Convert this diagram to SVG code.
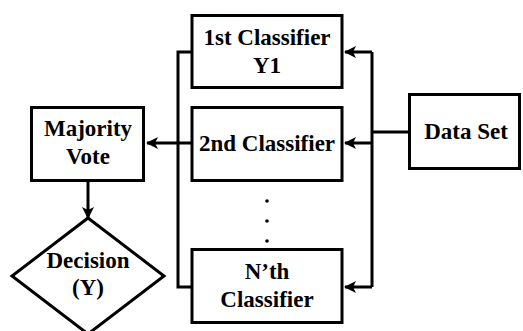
<svg xmlns="http://www.w3.org/2000/svg" width="523" height="331" viewBox="0 0 523 331">
<style>
.box{fill:#fff;stroke:#000;stroke-width:3}
.ln{fill:none;stroke:#000;stroke-width:3}
.t{font-family:'Liberation Serif','Times New Roman',serif;font-weight:bold;font-size:23px;fill:#000;text-anchor:middle}
</style>
<defs>
<marker id="ah" viewBox="0 0 12 12" refX="11" refY="6" markerWidth="12" markerHeight="12" markerUnits="userSpaceOnUse" orient="auto">
<path d="M0,0 L12,6 L0,12 L3,6 z" fill="#000"/>
</marker>
</defs>
<rect width="523" height="331" fill="#fff"/>
<g id="connectors">
<path class="ln" d="M372 52 V287"/>
<path class="ln" d="M408 132 H372"/>
<path class="ln" d="M372 52 H345" marker-end="url(#ah)"/>
<path class="ln" d="M372 143 H345" marker-end="url(#ah)"/>
<path class="ln" d="M372 287 H345" marker-end="url(#ah)"/>
<path class="ln" d="M191 52 H178 V287 H191"/>
<path class="ln" d="M191 143 H147" marker-end="url(#ah)"/>
<path class="ln" d="M88 182 V218" marker-end="url(#ah)"/>
</g>
<g id="classifier1">
<rect class="box" x="192" y="15.5" width="150" height="72"/>
<text class="t" x="267" y="45">1st Classifier</text>
<text class="t" x="267" y="73">Y1</text>
</g>
<g id="classifier2">
<rect class="box" x="192" y="107.5" width="150" height="73"/>
<text class="t" x="267" y="151">2nd Classifier</text>
</g>
<g id="dots">
<circle cx="267" cy="201" r="1.8"/>
<circle cx="267" cy="221" r="1.8"/>
<circle cx="267" cy="241" r="1.8"/>
</g>
<g id="classifierN">
<rect class="box" x="192" y="249.5" width="150" height="73"/>
<text class="t" x="267" y="279">N’th</text>
<text class="t" x="267" y="307">Classifier</text>
</g>
<g id="dataset">
<rect class="box" x="409.5" y="94.5" width="110" height="74"/>
<text class="t" x="466" y="139">Data Set</text>
</g>
<g id="majority">
<rect class="box" x="31.5" y="107.5" width="112" height="73"/>
<text class="t" x="88" y="136">Majority</text>
<text class="t" x="88" y="164">Vote</text>
</g>
<g id="decision">
<polygon class="box" points="88,218 164,276 88,334 12,276"/>
<text class="t" x="88" y="268">Decision</text>
<text class="t" x="88" y="295">(Y)</text>
</g>
</svg>
